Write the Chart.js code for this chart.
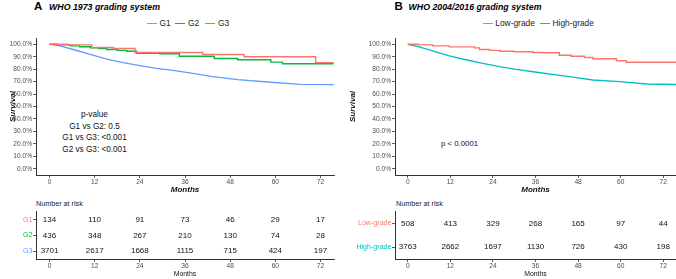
<!DOCTYPE html>
<html>
<head>
<meta charset="utf-8">
<script src="https://cdn.jsdelivr.net/npm/chart.js@4"></script>
<style>
  html, body { margin: 0; padding: 0; background: #fff; }
  body { width: 676px; height: 279px; position: relative; overflow: hidden;
         font-family: "Liberation Sans", Arial, sans-serif; color: #111; }
  canvas { position: absolute; }
  .t { position: absolute; white-space: nowrap; line-height: 1; }
  .c { transform: translate(-50%, -50%); }
  .l { transform: translate(0, -50%); }
  .leg { position: absolute; height: 1.6px; width: 10px; }
</style>
</head>
<body>
<!-- titles -->
<div class="t l" style="left:34px;top:7px;font-size:11.5px;font-weight:bold;color:#000;">A</div>
<div class="t l" style="left:49px;top:7px;font-size:8.8px;font-weight:bold;font-style:italic;color:#000;">WHO 1973 grading system</div>
<div class="t l" style="left:394.5px;top:7px;font-size:11.5px;font-weight:bold;color:#000;">B</div>
<div class="t l" style="left:408.5px;top:7px;font-size:8.8px;font-weight:bold;font-style:italic;color:#000;">WHO 2004/2016 grading system</div>

<!-- legends -->
<div class="leg" style="left:147px;top:22.5px;background:#F8766D;"></div>
<div class="t l" style="left:159.5px;top:23.3px;font-size:8.4px;color:#222;">G1</div>
<div class="leg" style="left:175px;top:22.5px;background:#00BA38;"></div>
<div class="t l" style="left:188px;top:23.3px;font-size:8.4px;color:#222;">G2</div>
<div class="leg" style="left:205px;top:22.5px;background:#619CFF;"></div>
<div class="t l" style="left:218px;top:23.3px;font-size:8.4px;color:#222;">G3</div>

<div class="leg" style="left:482.7px;top:22.5px;background:#F8766D;"></div>
<div class="t l" style="left:495.3px;top:23.3px;font-size:8.4px;color:#222;">Low-grade</div>
<div class="leg" style="left:539.5px;top:22.5px;background:#00BFC4;"></div>
<div class="t l" style="left:552.5px;top:23.3px;font-size:8.4px;color:#222;">High-grade</div>

<!-- p-values -->
<div class="t c" style="left:94.5px;top:115px;font-size:8.2px;">p-value</div>
<div class="t c" style="left:94.5px;top:126.7px;font-size:8.2px;">G1 vs G2: 0.5</div>
<div class="t c" style="left:94.5px;top:138.3px;font-size:8.2px;">G1 vs G3: &lt;0.001</div>
<div class="t c" style="left:94.5px;top:150px;font-size:8.2px;">G2 vs G3: &lt;0.001</div>
<div class="t l" style="left:441px;top:144.3px;font-size:7.8px;">p &lt; 0.0001</div>

<!-- Number at risk -->
<div class="t l" style="left:36px;top:204px;font-size:7.2px;color:#222;">Number at risk</div>
<div class="t l" style="left:396px;top:204px;font-size:7.2px;color:#222;">Number at risk</div>

<canvas id="kmA" width="338" height="168" style="left:0;top:30px;"></canvas>
<canvas id="kmB" width="338" height="168" style="left:338px;top:30px;"></canvas>
<canvas id="rtA" width="338" height="81" style="left:0;top:198px;"></canvas>
<canvas id="rtB" width="338" height="81" style="left:338px;top:198px;"></canvas>

<script>
// ---------------- DATA ----------------
const monthTicks = [0, 12, 24, 36, 48, 60, 72];
const survTicks  = [0, 10, 20, 30, 40, 50, 60, 70, 80, 90, 100];

// Panel A: WHO 1973 (Kaplan-Meier, survival %)
const g1Time = [0, 5, 11.2, 17, 22.7, 40.7, 51.7, 70.7, 75.5];
const g1Surv = [100, 99.5, 97.4, 96.6, 93.4, 91.8, 90.0, 85.2, 85.2];

const g2Time = [0, 2, 5.5, 8, 10.8, 13, 15.2, 18, 20.5, 23.1, 29.3, 34.5, 43.8, 50, 58.8, 61.9, 75.5];
const g2Surv = [100, 99.5, 98.7, 98.0, 97.1, 96.5, 95.8, 95.1, 94.4, 92.8, 92.3, 90.4, 88.6, 87.5, 85.6, 84.3, 84.3];

const g3Time = [0, 2.8, 6.3, 10.8, 15.2, 19.6, 24, 28.4, 32.8, 36.8, 42.9, 50, 57.9, 66.7, 75.5];
const g3Surv = [100, 98.7, 95.8, 91.8, 88.0, 85.2, 82.8, 80.6, 79.0, 77.2, 74.2, 71.6, 69.7, 67.8, 67.6];

// Panel B: WHO 2004/2016
const lowTime = [0, 3, 7, 11.7, 18.8, 20.2, 23, 25.9, 30, 35.3, 38, 42.7, 46, 49.8, 52.2, 58.8, 61.6, 75.8];
const lowSurv = [100, 99.5, 98.7, 97.9, 97.1, 95.8, 95.1, 94.4, 93.9, 93.4, 93.1, 91.2, 90.4, 89.4, 88.3, 86.7, 85.5, 85.5];

const highTime = [0, 3.2, 7, 11.7, 16.4, 21.1, 25.9, 30.6, 36.3, 45.5, 52.2, 59.7, 67.3, 75.8];
const highSurv = [100, 97.9, 94.7, 90.7, 87.5, 84.6, 82.0, 79.8, 77.5, 74.0, 71.3, 70.0, 68.1, 67.6];

// Number at risk
const riskGroupsA = ['G1', 'G2', 'G3'];
const riskG1 = [134, 110, 91, 73, 46, 29, 17];
const riskG2 = [436, 348, 267, 210, 130, 74, 28];
const riskG3 = [3701, 2617, 1668, 1115, 715, 424, 197];

const riskGroupsB = ['Low-grade', 'High-grade'];
const riskLow  = [508, 413, 329, 268, 165, 97, 44];
const riskHigh = [3763, 2662, 1697, 1130, 726, 430, 198];

// ---------------- STYLE ----------------
const RED = '#F8766D', GREEN = '#00BA38', BLUE = '#619CFF', CYAN = '#00BFC4';
const AXIS = '#333333', TICKTXT = '#4D4D4D';
Chart.defaults.font.family = '"Liberation Sans", Arial, sans-serif';
Chart.defaults.animation = false;

function pts(t, s) { return t.map((x, i) => ({ x: x, y: s[i] })); }

function kmDataset(t, s, color, stepped) {
  return { data: pts(t, s), borderColor: color, backgroundColor: color,
           borderWidth: 1.4, pointRadius: 0, showLine: true,
           stepped: stepped ? 'before' : false, tension: 0, clip: false };
}

function xScale(titleFont, titlePad, height, bold) {
  return {
    type: 'linear', min: -3.6, max: 75.6,
    afterBuildTicks: s => { s.ticks = monthTicks.map(v => ({ value: v })); },
    afterFit: s => { s.height = height; },
    grid: { drawOnChartArea: false, drawTicks: true, tickLength: 3, color: AXIS, lineWidth: 0.8 },
    border: { display: true, color: AXIS, width: 1 },
    ticks: { color: TICKTXT, font: { size: 6.6 }, padding: 0, maxRotation: 0, autoSkip: false },
    title: { display: true, text: 'Months', color: '#111',
             font: { size: titleFont, weight: bold ? 'bold' : 'normal', style: bold ? 'italic' : 'normal' },
             padding: { top: 0, bottom: titlePad } }
  };
}

function kmChart(id, datasets, yWidth, titlePadTop, rightPad) {
  return new Chart(document.getElementById(id), {
    type: 'scatter',
    data: { datasets: datasets },
    options: {
      responsive: false, animation: false,
      layout: { padding: { top: 8, right: rightPad, left: 0, bottom: 0 } },
      plugins: { legend: { display: false }, tooltip: { enabled: false } },
      scales: {
        x: xScale(8, 3, 23, true),
        y: {
          type: 'linear', min: -5, max: 105,
          afterBuildTicks: s => { s.ticks = survTicks.map(v => ({ value: v })); },
          afterFit: s => { s.width = yWidth; },
          grid: { drawOnChartArea: false, drawTicks: true, tickLength: 3, color: AXIS, lineWidth: 0.8 },
          border: { display: true, color: AXIS, width: 1 },
          ticks: { color: TICKTXT, font: { size: 6.6 }, padding: 1,
                   callback: v => v.toFixed(1) + '%' },
          title: { display: true, text: 'Survival', color: '#111',
                   font: { size: 8, weight: 'bold', style: 'italic' },
                   padding: { top: titlePadTop, bottom: 0 } }
        }
      }
    }
  });
}

kmChart('kmA', [
  kmDataset(g1Time, g1Surv, RED, true),
  kmDataset(g2Time, g2Surv, GREEN, true),
  kmDataset(g3Time, g3Surv, BLUE, false)
], 36, 8, 4);

kmChart('kmB', [
  kmDataset(lowTime, lowSurv, RED, true),
  kmDataset(highTime, highSurv, CYAN, false)
], 57, 10, 0);

// ---------------- Risk tables ----------------
const riskTextPlugin = {
  id: 'riskText',
  afterDatasetsDraw(chart) {
    const ctx = chart.ctx;
    ctx.save();
    ctx.fillStyle = '#111';
    ctx.font = '8px "Liberation Sans", Arial, sans-serif';
    ctx.textAlign = 'center';
    ctx.textBaseline = 'middle';
    chart.data.datasets.forEach((ds, i) => {
      const meta = chart.getDatasetMeta(i);
      meta.data.forEach((el, j) => { ctx.fillText(String(ds.data[j].n), el.x, el.y); });
    });
    ctx.restore();
  }
};

function riskChart(id, groups, values, colors, yWidth, rightPad) {
  const datasets = groups.map((g, i) => ({
    data: monthTicks.map((t, j) => ({ x: t, y: g, n: values[i][j] })),
    pointRadius: 0, showLine: false
  }));
  return new Chart(document.getElementById(id), {
    type: 'scatter',
    data: { datasets: datasets },
    options: {
      responsive: false, animation: false,
      layout: { padding: { top: 13.7, right: rightPad, left: 0, bottom: 0 } },
      plugins: { legend: { display: false }, tooltip: { enabled: false } },
      scales: {
        x: xScale(6.9, 1, 20, false),
        y: {
          type: 'category', labels: groups, offset: true,
          afterFit: s => { s.width = yWidth; },
          grid: { drawOnChartArea: false, drawTicks: true, tickLength: 3, color: AXIS, lineWidth: 0.8, offset: false },
          border: { display: true, color: AXIS, width: 1 },
          ticks: { color: c => colors[c.index], font: { size: 7.1 }, padding: 0.5 }
        }
      }
    },
    plugins: [riskTextPlugin]
  });
}

riskChart('rtA', riskGroupsA, [riskG1, riskG2, riskG3], [RED, GREEN, BLUE], 36, 4);
riskChart('rtB', riskGroupsB, [riskLow, riskHigh], [RED, CYAN], 57, 0);
</script>
</body>
</html>
